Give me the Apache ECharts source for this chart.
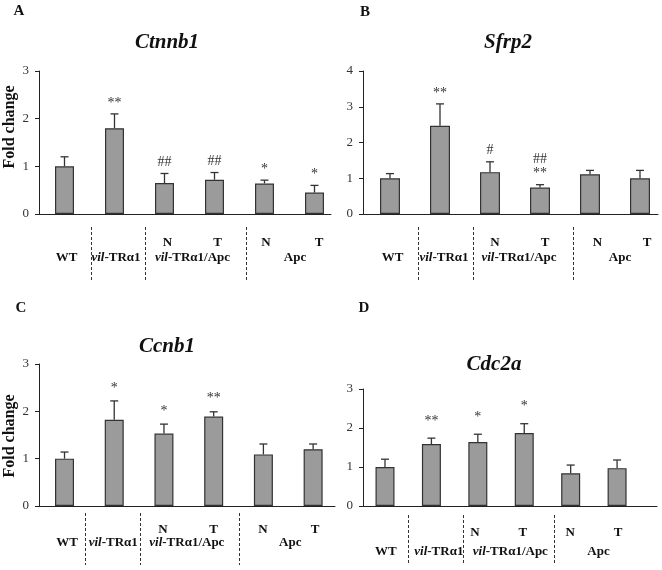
<!DOCTYPE html>
<html>
<head>
<meta charset="utf-8">
<script src="https://cdn.jsdelivr.net/npm/echarts@6/dist/echarts.min.js"></script>
<style>html,body{margin:0;padding:0;background:#fff}#c{width:662px;height:570px}</style>
</head>
<body>
<div id="c"></div>
<script>
// ---- data ----
const categories = ['WT', 'vil-TRα1', 'N', 'T', 'N', 'T'];
const positions = [0, 1, 2, 3, 4, 5];
const groupLabels = ['WT', '{i|vil}-TRα1', '{i|vil}-TRα1/Apc', 'Apc'];
const subLabels = ['N', 'T', 'N', 'T'];

const ctnnb1Mean = [1.00, 1.80, 0.65, 0.72, 0.64, 0.45];
const ctnnb1Err  = [0.20, 0.30, 0.20, 0.15, 0.07, 0.15];
const ctnnb1Sig  = ['', '**', '##', '##', '*', '*'];

const sfrp2Mean = [1.00, 2.47, 1.17, 0.74, 1.11, 1.00];
const sfrp2Err  = [0.13, 0.61, 0.29, 0.08, 0.11, 0.22];
const sfrp2Sig  = ['', '**', '#', '##\n**', '', ''];

const ccnb1Mean = [1.00, 1.82, 1.53, 1.89, 1.09, 1.20];
const ccnb1Err  = [0.14, 0.40, 0.20, 0.10, 0.22, 0.11];
const ccnb1Sig  = ['', '*', '*', '**', '', ''];

const cdc2aMean = [1.00, 1.59, 1.64, 1.87, 0.84, 0.97];
const cdc2aErr  = [0.20, 0.15, 0.20, 0.24, 0.21, 0.21];
const cdc2aSig  = ['', '**', '*', '*', '', ''];

const yTicksA = [0, 1, 2, 3];
const yTicksB = [0, 1, 2, 3, 4];

// ---- layout ----
const SERIF = '"Liberation Serif", "DejaVu Serif", serif';
const panels = [
  { letter: 'A', title: 'Ctnnb1', mean: ctnnb1Mean, err: ctnnb1Err, sig: ctnnb1Sig, ymax: 3,
    grid: { left: 39, top: 71, width: 292, height: 143 }, xmin: -0.51, xmax: 5.33, barWidth: 19,
    letterPos: [19, 11], titlePos: [167, 43], yname: [10, 127], sigGap: 4,
    subPos: [2.06, 3.06, 4.03, 5.09], groupPos: [0.04, 1.03, 2.56, 4.61], seps: [0.52, 1.6, 3.62],
    subY: 243, groupY: 258, sepY: [227, 280] },
  { letter: 'B', title: 'Sfrp2', mean: sfrp2Mean, err: sfrp2Err, sig: sfrp2Sig, ymax: 4,
    grid: { left: 363, top: 71, width: 295, height: 143 }, xmin: -0.54, xmax: 5.36, barWidth: 20,
    letterPos: [365, 12], titlePos: [508, 43], yname: null, sigGap: 4,
    subPos: [2.1, 3.1, 4.15, 5.14], groupPos: [0.05, 1.08, 2.58, 4.6], seps: [0.56, 1.66, 3.66],
    subY: 243, groupY: 258, sepY: [227, 280] },
  { letter: 'C', title: 'Ccnb1', mean: ccnb1Mean, err: ccnb1Err, sig: ccnb1Sig, ymax: 3,
    grid: { left: 39, top: 364, width: 296, height: 142 }, xmin: -0.513, xmax: 5.44, barWidth: 19,
    letterPos: [21, 308], titlePos: [167, 347], yname: [10, 436], sigGap: 6,
    subPos: [1.98, 3.0, 3.99, 5.04], groupPos: [0.05, 0.98, 2.46, 4.54], seps: [0.42, 1.51, 3.51],
    subY: 530, groupY: 543, sepY: [513, 565] },
  { letter: 'D', title: 'Cdc2a', mean: cdc2aMean, err: cdc2aErr, sig: cdc2aSig, ymax: 3,
    grid: { left: 363, top: 389, width: 294, height: 117 }, xmin: -0.474, xmax: 5.86, barWidth: 19,
    letterPos: [364, 308], titlePos: [494, 365], yname: null, sigGap: 10,
    subPos: [1.94, 2.97, 3.99, 5.02], groupPos: [0.02, 1.16, 2.7, 4.6], seps: [0.5, 1.68, 3.64],
    subY: 533, groupY: 552, sepY: [515, 565] }
];

const AXIS_COLOR = '#222';
const chart = echarts.init(document.getElementById('c'), null, { renderer: 'canvas', width: 662, height: 570 });

const grids = [], xAxes = [], yAxes = [], series = [];
panels.forEach((p, i) => {
  grids.push(Object.assign({ containLabel: false }, p.grid));
  xAxes.push({
    type: 'value', gridIndex: i, min: p.xmin, max: p.xmax,
    axisLine: { show: true, onZero: false, lineStyle: { color: AXIS_COLOR, width: 1 } },
    axisTick: { show: false }, axisLabel: { show: false }, splitLine: { show: false }
  });
  yAxes.push({
    type: 'value', gridIndex: i, min: 0, max: p.ymax, interval: 1,
    axisLine: { show: true, onZero: false, lineStyle: { color: AXIS_COLOR, width: 1 } },
    axisTick: { show: true, inside: false, length: 4, lineStyle: { color: AXIS_COLOR } },
    axisLabel: { show: true, margin: 10, color: '#333', fontFamily: SERIF, fontSize: 13 },
    splitLine: { show: false }
  });
  series.push({
    type: 'bar', xAxisIndex: i, yAxisIndex: i, barWidth: p.barWidth,
    data: p.mean.map((v, k) => [positions[k], v]),
    itemStyle: { color: '#9b9b9b', borderColor: '#333', borderWidth: 1.2 },
    silent: true, animation: false, z: 2
  });
  const sig = p.sig, gap = p.sigGap;
  series.push({
    type: 'custom', xAxisIndex: i, yAxisIndex: i, silent: true, animation: false, z: 3,
    data: p.mean.map((v, k) => [positions[k], v, p.err[k]]),
    renderItem: function (params, api) {
      const x = api.value(0), m = api.value(1), e = api.value(2);
      const p0 = api.coord([x, m]);
      const p1 = api.coord([x, m + e]);
      const children = [
        { type: 'line', shape: { x1: p0[0], y1: p0[1], x2: p1[0], y2: p1[1] }, style: { stroke: '#333', lineWidth: 1.3 } },
        { type: 'line', shape: { x1: p1[0] - 4, y1: p1[1], x2: p1[0] + 4, y2: p1[1] }, style: { stroke: '#333', lineWidth: 1.3 } }
      ];
      const s = sig[params.dataIndex];
      if (s) {
        children.push({
          type: 'text', x: p1[0], y: p1[1] - gap,
          style: { text: s, align: 'center', verticalAlign: 'bottom', fontSize: 14, fontFamily: SERIF, fill: '#333', lineHeight: 14 }
        });
      }
      return { type: 'group', children: children };
    }
  });
});

chart.setOption({
  animation: false,
  backgroundColor: '#fff',
  grid: grids, xAxis: xAxes, yAxis: yAxes, series: series
});

// ---- text & separators (positions derived from each panel's x axis) ----
const graphics = [];
panels.forEach((p, i) => {
  const toX = v => chart.convertToPixel({ xAxisIndex: i }, v);
  graphics.push({ type: 'text', x: p.letterPos[0], y: p.letterPos[1],
    style: { text: p.letter, align: 'center', verticalAlign: 'middle', fontSize: 15, fontWeight: 'bold', fontFamily: SERIF, fill: '#111' } });
  graphics.push({ type: 'text', x: p.titlePos[0], y: p.titlePos[1],
    style: { text: p.title, align: 'center', verticalAlign: 'middle', fontSize: 21, fontWeight: 'bold', fontStyle: 'italic', fontFamily: SERIF, fill: '#111' } });
  if (p.yname) {
    graphics.push({ type: 'text', x: p.yname[0], y: p.yname[1], rotation: Math.PI / 2,
      style: { text: 'Fold change', align: 'center', verticalAlign: 'middle', fontSize: 16, fontWeight: 'bold', fontFamily: SERIF, fill: '#111' } });
  }
  subLabels.forEach((t, k) => {
    graphics.push({ type: 'text', x: toX(p.subPos[k]), y: p.subY,
      style: { text: t, align: 'center', verticalAlign: 'middle', fontSize: 13, fontWeight: 'bold', fontFamily: SERIF, fill: '#111' } });
  });
  groupLabels.forEach((t, k) => {
    graphics.push({ type: 'text', x: toX(p.groupPos[k]), y: p.groupY,
      style: { text: t, align: 'center', verticalAlign: 'middle', fontSize: 13, fontWeight: 'bold', fontFamily: SERIF, fill: '#111',
        rich: { i: { fontSize: 13, fontWeight: 'bold', fontStyle: 'italic', fontFamily: SERIF, fill: '#111' } } } });
  });
  p.seps.forEach(s => {
    const x = Math.round(toX(s)) + 0.5;
    graphics.push({ type: 'line', shape: { x1: x, y1: p.sepY[0], x2: x, y2: p.sepY[1] },
      style: { stroke: '#333', lineWidth: 1, lineDash: [3, 2] } });
  });
});
chart.setOption({ graphic: graphics });
</script>
</body>
</html>
